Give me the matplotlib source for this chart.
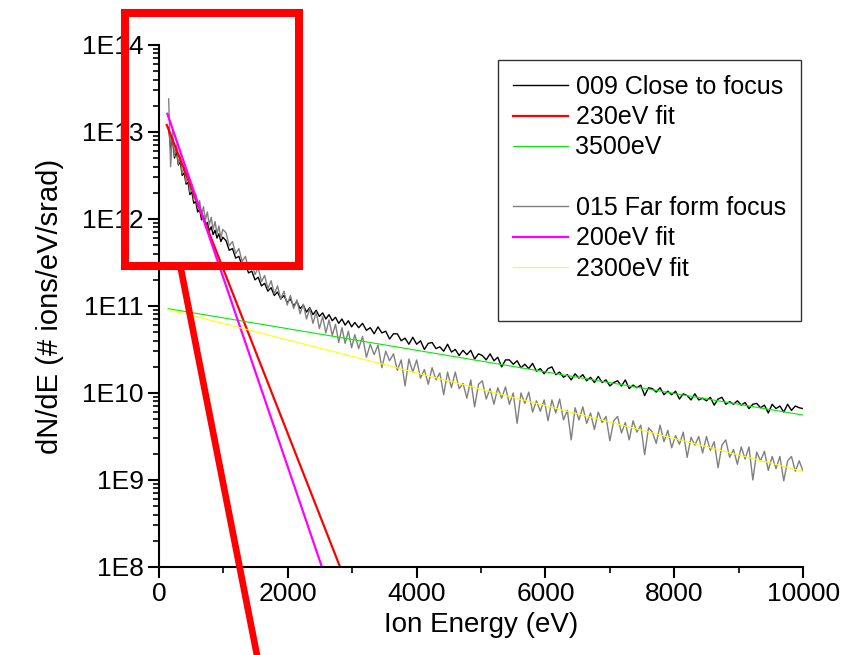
import numpy as np
import matplotlib.pyplot as plt
from matplotlib.lines import Line2D
from matplotlib.patches import Rectangle
from matplotlib.ticker import FuncFormatter, LogLocator, MultipleLocator

plt.rcParams['font.family'] = ['Liberation Sans', 'DejaVu Sans']

# ion energy channels (eV)
energy = [150, 180, 210, 240, 270, 300, 330, 360, 390, 420, 450, 480, 510, 540, 570,
          600, 630, 660, 690, 720, 750, 780, 810, 840, 870, 900, 930, 960, 990,
          1040, 1090, 1140, 1190, 1240, 1290, 1340, 1390, 1440, 1490, 1540, 1590, 1640, 1690,
          1740, 1790, 1840, 1890, 1940, 1990, 2040, 2090, 2140, 2190, 2240, 2290, 2340, 2390,
          2440, 2490, 2540, 2590, 2640, 2690, 2740, 2790, 2840, 2890, 2940, 2990,
          3040, 3100, 3160, 3220, 3280, 3340, 3400, 3460, 3520, 3580,
          3640, 3700, 3760, 3820, 3880, 3940, 4000, 4060, 4120, 4180,
          4240, 4300, 4360, 4420, 4480, 4540, 4600, 4660, 4720, 4780,
          4840, 4900, 4960, 5020, 5080, 5140, 5200, 5260, 5320, 5380,
          5440, 5500, 5560, 5620, 5680, 5740, 5800, 5860, 5920, 5980,
          6040, 6100, 6160, 6220, 6280, 6340, 6400, 6460, 6520, 6580,
          6640, 6700, 6760, 6820, 6880, 6940, 7000, 7060, 7120, 7180,
          7240, 7300, 7360, 7420, 7480, 7540, 7600, 7660, 7720, 7780,
          7840, 7900, 7960, 8020, 8080, 8140, 8200, 8260, 8320, 8380,
          8440, 8500, 8560, 8620, 8680, 8740, 8800, 8860, 8920, 8980,
          9040, 9100, 9160, 9220, 9280, 9340, 9400, 9460, 9520, 9580,
          9640, 9700, 9760, 9820, 9880, 9940, 10000]

# log10 of dN/dE, shot 009 (close to focus)
close_log = [13.05, 12.80, 12.92, 12.70, 12.78, 12.62, 12.66, 12.50, 12.53, 12.40,
             12.42, 12.28, 12.31, 12.18, 12.20, 12.08, 12.11, 11.99, 12.03, 11.92,
             11.96, 11.86, 11.91, 11.82, 11.87, 11.78, 11.83, 11.74, 11.79,
             11.75, 11.64, 11.66, 11.55, 11.57, 11.46, 11.48, 11.38, 11.40, 11.30,
             11.33, 11.23, 11.26, 11.17, 11.21, 11.12, 11.16, 11.08, 11.12, 11.04,
             11.08, 11.00, 11.05, 10.97, 11.01, 10.93, 10.98, 10.90, 10.95, 10.88,
             10.92, 10.85, 10.90, 10.83, 10.87, 10.80, 10.85, 10.78, 10.83, 10.76,
             10.81, 10.75, 10.80, 10.72, 10.75, 10.68, 10.76, 10.69, 10.71, 10.62,
             10.68, 10.68, 10.60, 10.63, 10.56, 10.64, 10.56, 10.60, 10.50, 10.57,
             10.58, 10.51, 10.53, 10.48, 10.56, 10.47, 10.50, 10.43, 10.49, 10.44,
             10.49, 10.39, 10.45, 10.43, 10.38, 10.45, 10.37, 10.41, 10.30, 10.38,
             10.38, 10.33, 10.37, 10.29, 10.33, 10.28, 10.34, 10.25, 10.28, 10.22,
             10.28, 10.30, 10.21, 10.24, 10.18, 10.21, 10.15, 10.22, 10.17, 10.21,
             10.14, 10.18, 10.12, 10.19, 10.12, 10.15, 10.08, 10.12, 10.14, 10.08,
             10.15, 10.05, 10.09, 10.06, 10.09, 9.97, 10.06, 10.05, 10.01, 10.06,
             9.98, 10.02, 9.98, 10.02, 9.93, 9.99, 9.97, 9.92, 9.99, 9.92,
             9.94, 9.91, 9.95, 9.86, 9.93, 9.95, 9.87, 9.90, 9.87, 9.91,
             9.86, 9.89, 9.82, 9.87, 9.88, 9.83, 9.86, 9.77, 9.87, 9.82,
             9.85, 9.78, 9.87, 9.80, 9.85, 9.83, 9.82]

# log10 of dN/dE, shot 015 (far from focus)
far_log = [13.38, 12.60, 13.00, 12.72, 12.85, 12.63, 12.72, 12.52, 12.60, 12.42,
           12.50, 12.31, 12.40, 12.22, 12.29, 12.13, 12.21, 12.05, 12.14, 11.99,
           12.08, 11.93, 12.02, 11.88, 11.97, 11.83, 11.92, 11.78, 11.88,
           11.84, 11.69, 11.74, 11.60, 11.66, 11.51, 11.57, 11.43, 11.50, 11.36,
           11.44, 11.28, 11.35, 11.20, 11.29, 11.14, 11.23, 11.08, 11.17, 11.01,
           11.12, 10.97, 11.07, 10.91, 11.02, 10.85, 10.97, 10.80, 10.93, 10.74,
           10.88, 10.69, 10.84, 10.66, 10.79, 10.58, 10.75, 10.57, 10.71, 10.52,
           10.67, 10.51, 10.65, 10.41, 10.56, 10.44, 10.55, 10.29, 10.48, 10.37,
           10.45, 10.26, 10.38, 10.08, 10.39, 10.24, 10.38, 10.17, 10.27, 10.10,
           10.29, 10.15, 10.23, 9.98, 10.24, 10.06, 10.24, 10.05, 10.11, 9.94,
           10.15, 9.84, 10.10, 10.14, 9.93, 10.05, 9.87, 10.06, 9.94, 10.07,
           9.87, 10.00, 9.65, 10.00, 9.88, 10.01, 9.78, 9.91, 9.79, 9.92,
           9.68, 9.92, 9.77, 9.93, 9.69, 9.80, 9.46, 9.83, 9.69, 9.84,
           9.65, 9.77, 9.58, 9.78, 9.66, 9.73, 9.45, 9.68, 9.73, 9.54,
           9.66, 9.46, 9.68, 9.55, 9.63, 9.29, 9.60, 9.55, 9.42, 9.63,
           9.44, 9.57, 9.37, 9.51, 9.41, 9.55, 9.26, 9.49, 9.40, 9.50,
           9.31, 9.50, 9.34, 9.44, 9.14, 9.40, 9.46, 9.26, 9.35, 9.18,
           9.38, 9.24, 9.38, 9.00, 9.32, 9.22, 9.33, 9.11, 9.27, 9.13,
           9.27, 8.99, 9.22, 9.27, 9.10, 9.22, 9.10]

# exponential fits: temperature (eV), amplitude at E=0, energy span drawn
fit_labels = ['230eV fit', '3500eV', '200eV fit', '2300eV fit']
fit_temp = [230, 3500, 200, 2300]
fit_amp = [2.03e13, 9.7e10, 3.1e13, 9.7e10]
fit_span = [(120, 3000), (140, 10000), (130, 2700), (140, 10000)]
fit_colors = ['#ff0000', '#00ee00', '#ff00ff', '#ffff00']
fit_widths = [1.6, 0.8, 1.6, 0.8]

fig = plt.figure(figsize=(8.41, 6.55), dpi=100)
ax = fig.add_axes([0.1891, 0.1344, 0.7658, 0.797])

E = np.array(energy)
h_close, = ax.plot(E, 10 ** np.array(close_log), color='black', lw=1.0)
h_far, = ax.plot(E, 10 ** np.array(far_log), color='#808080', lw=1.0)

fit_handles = []
for T, A, span, c, w in zip(fit_temp, fit_amp, fit_span, fit_colors, fit_widths):
    e = np.array(span, dtype=float)
    h, = ax.plot(e, A * np.exp(-e / T), color=c, lw=w)
    fit_handles.append(h)

ax.set_yscale('log')
ax.set_xlim(0, 10000)
ax.set_ylim(1e8, 1e14)

ax.yaxis.set_major_locator(LogLocator(base=10, numticks=10))
ax.yaxis.set_minor_locator(LogLocator(base=10, subs=np.arange(2, 10), numticks=20))
ax.yaxis.set_major_formatter(FuncFormatter(lambda v, p: '1E%d' % round(np.log10(v))))
ax.xaxis.set_major_locator(MultipleLocator(2000))
ax.xaxis.set_minor_locator(MultipleLocator(1000))

for s in ['top', 'right']:
    ax.spines[s].set_visible(False)
for s in ['left', 'bottom']:
    ax.spines[s].set_linewidth(1.5)
ax.tick_params(which='major', direction='out', length=8, width=1.5, labelsize=19, pad=3)
ax.tick_params(which='minor', direction='out', length=4, width=1.2)

ax.set_xlabel('Ion Energy (eV)', fontsize=20, labelpad=4)
ax.set_ylabel('dN/dE (# ions/eV/srad)', fontsize=21, labelpad=13)

blank = Line2D([], [], color='none')
handles = [h_close, fit_handles[0], fit_handles[1], blank,
           h_far, fit_handles[2], fit_handles[3], blank]
labels = ['009 Close to focus', fit_labels[0], fit_labels[1], ' ',
          '015 Far form focus', fit_labels[2], fit_labels[3], ' ']
leg = ax.legend(handles, labels, loc='upper left', bbox_to_anchor=(498 / 841, 1 - 60 / 655),
                bbox_transform=fig.transFigure, fontsize=18, frameon=True, fancybox=False,
                edgecolor='black', handlelength=2.2, handletextpad=0.3,
                labelspacing=0.25, borderpad=0.6, borderaxespad=0)
leg.get_frame().set_linewidth(1.0)
# trailing spacer row is shorter than a text row
leg.get_texts()[-1].set_fontsize(8)

# red highlight box around the low-energy part and its pointer line
ax.add_patch(Rectangle((-530, 2.9e11), 2700, 2.3e14 - 2.9e11, fill=False,
                       edgecolor='#ff0000', lw=5.8, clip_on=False, zorder=5))
ax.plot([330, 1650], [2.9e11, 10 ** 6.5], color='#ff0000', lw=4.8,
        solid_capstyle='butt', clip_on=False, zorder=5)

fig.savefig('out.png', dpi=100)
